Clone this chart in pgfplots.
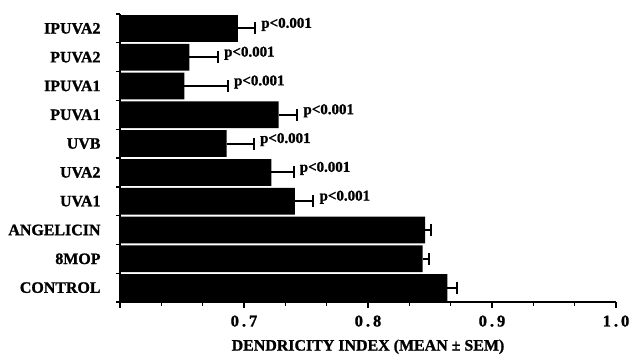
\documentclass[border=0pt]{standalone}
\usepackage{fontspec}
\setmainfont{Liberation Serif}[BoldFeatures={FakeBold=1.2}]
\usepackage{pgfplots}
\pgfplotsset{compat=1.18}
\begin{document}
\begin{tikzpicture}[x=1bp,y=1bp]
\useasboundingbox (-120bp,-54bp) rectangle (512bp,302bp);
\begin{axis}[
  at={(0,0)}, anchor=south west,
  scale only axis, width=496bp, height=288bp,
  font=\fontsize{16}{18}\selectfont\bfseries,
  xmin=0.6, xmax=1.0, ymin=-0.5, ymax=9.5,
  axis x line*=bottom, axis y line*=left,
  axis line style={line width=1.6bp, -},
  xtick={0.6,0.7,0.8,0.9,1.0},
  xticklabels={,\textbf{0\kern3bp.\kern3bp7},\textbf{0\kern3bp.\kern3bp8},\textbf{0\kern3bp.\kern3bp9},\textbf{1\kern3bp.\kern3bp0}},
  minor x tick num=2,
  tick align=outside,
  major tick length=6bp, minor tick length=4bp,
  every tick/.style={line width=1.4bp, black},
  xticklabel style={yshift=-4bp, font=\fontsize{16.5}{18}\selectfont\bfseries},
  ytick={0,...,9},
  yticklabels={CONTROL,8MOP,ANGELICIN,UVA1,UVA2,UVB,PUVA1,IPUVA1,PUVA2,IPUVA2},
  every major y tick/.append style={draw=none},
  minor ytick={-0.5,0.5,...,9.5},
  every minor y tick/.append style={draw=black, line width=1.4bp},
  yticklabel style={xshift=-10bp},
  xlabel={DENDRICITY INDEX (MEAN ± SEM)},
  xlabel style={font=\fontsize{16}{18}\selectfont\bfseries, yshift=-6bp},
  clip=false,
]
\addplot[xbar, bar width=0.93, bar shift=0pt, fill=black, draw=none,
  error bars/.cd, x dir=plus, x explicit,
  error bar style={line width=2bp, black},
  error mark options={rotate=90, mark size=6bp, line width=2bp}]
coordinates {
(0.864,0) +- (0.008,0)
(0.844,1) +- (0.005,0)
(0.846,2) +- (0.005,0)
(0.741,3) +- (0.015,0)
(0.722,4) +- (0.018,0)
(0.686,5) +- (0.022,0)
(0.728,6) +- (0.015,0)
(0.652,7) +- (0.035,0)
(0.656,8) +- (0.023,0)
(0.695,9) +- (0.014,0)
};
\addplot[draw=none, mark=none, nodes near coords={p<0.001},
  every node near coord/.append style={anchor=west, xshift=5bp, yshift=4bp,
    font=\fontsize{15}{17}\selectfont\bfseries, inner sep=1bp}]
coordinates {
(0.756,3)
(0.740,4)
(0.708,5)
(0.743,6)
(0.687,7)
(0.679,8)
(0.709,9)
};
\end{axis}
\end{tikzpicture}
\end{document}
